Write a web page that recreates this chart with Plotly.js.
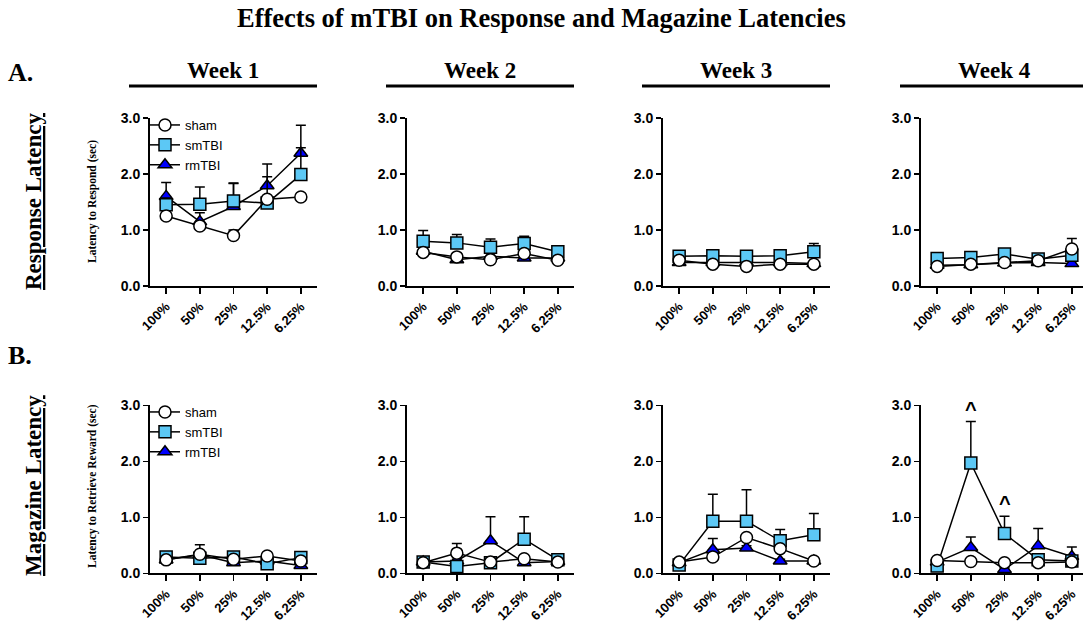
<!DOCTYPE html>
<html>
<head>
<meta charset="utf-8">
<script src="https://cdn.plot.ly/plotly-3.0.1.min.js"></script>
<style>html,body{margin:0;padding:0;background:#fff;}#chart{width:1083px;height:623px;}</style>
</head>
<body>
<div id="chart"></div>
<script>
// ---------- DATA ----------
const doseLabels = ['100%', '50%', '25%', '12.5%', '6.25%'];
const weeks = ['Week 1', 'Week 2', 'Week 3', 'Week 4'];
const groups = ['sham', 'smTBI', 'rmTBI'];
const chartTitle = 'Effects of mTBI on Response and Magazine Latencies';
const rowLabels = ['Response Latency', 'Magazine Latency'];
const rowLetters = ['A.', 'B.'];
const yTitles = ['Latency to Respond (sec)', 'Latency to Retrieve Reward (sec)'];
const yTicks = [0, 1, 2, 3];
const yTickText = ['0.0', '1.0', '2.0', '3.0'];

// Response latency (sec), one row per week, one value per dose
const respSham = [[1.25, 1.07, 0.90, 1.55, 1.59], [0.60, 0.52, 0.47, 0.58, 0.46], [0.46, 0.39, 0.35, 0.39, 0.39], [0.35, 0.39, 0.42, 0.45, 0.66]];
const respShamErr = [[0.03, 0.03, 0.10, 0.03, 0.03], [0.05, 0.05, 0.04, 0.05, 0.04], [0.04, 0.04, 0.03, 0.03, 0.03], [0.03, 0.03, 0.03, 0.03, 0.19]];
const respSm = [[1.45, 1.46, 1.52, 1.48, 1.99], [0.80, 0.77, 0.69, 0.76, 0.61], [0.53, 0.54, 0.53, 0.54, 0.61], [0.49, 0.51, 0.57, 0.48, 0.55]];
const respSmErr = [[0.12, 0.31, 0.32, 0.47, 0.48], [0.19, 0.15, 0.15, 0.13, 0.06], [0.04, 0.04, 0.06, 0.04, 0.15], [0.04, 0.05, 0.06, 0.04, 0.05]];
const respRm = [[1.60, 1.15, 1.42, 1.79, 2.37], [0.62, 0.47, 0.53, 0.50, 0.50], [0.42, 0.42, 0.42, 0.42, 0.40], [0.37, 0.38, 0.41, 0.42, 0.40]];
const respRmErr = [[0.25, 0.16, 0.41, 0.39, 0.50], [0.05, 0.05, 0.05, 0.05, 0.05], [0.04, 0.04, 0.04, 0.04, 0.04], [0.04, 0.04, 0.04, 0.04, 0.04]];

// Magazine latency (sec)
const magSham = [[0.24, 0.34, 0.25, 0.31, 0.22], [0.19, 0.36, 0.20, 0.26, 0.20], [0.20, 0.29, 0.64, 0.44, 0.22], [0.23, 0.21, 0.19, 0.19, 0.20]];
const magShamErr = [[0.02, 0.17, 0.03, 0.02, 0.02], [0.02, 0.17, 0.02, 0.03, 0.02], [0.02, 0.03, 0.04, 0.04, 0.02], [0.02, 0.02, 0.02, 0.02, 0.02]];
const magSm = [[0.29, 0.27, 0.29, 0.17, 0.28], [0.20, 0.12, 0.19, 0.61, 0.24], [0.15, 0.93, 0.93, 0.58, 0.69], [0.13, 1.97, 0.71, 0.24, 0.22]];
const magSmErr = [[0.02, 0.03, 0.02, 0.02, 0.02], [0.02, 0.03, 0.02, 0.40, 0.04], [0.02, 0.48, 0.56, 0.20, 0.38], [0.02, 0.74, 0.31, 0.03, 0.03]];
const magRm = [[0.24, 0.33, 0.19, 0.22, 0.14], [0.20, 0.22, 0.58, 0.19, 0.21], [0.19, 0.42, 0.45, 0.22, 0.22], [0.20, 0.46, 0.07, 0.49, 0.30]];
const magRmErr = [[0.02, 0.03, 0.02, 0.02, 0.02], [0.02, 0.03, 0.43, 0.03, 0.03], [0.02, 0.20, 0.04, 0.03, 0.03], [0.02, 0.19, 0.03, 0.31, 0.17]];

// significance markers: [row, week, dose index] on smTBI
const sigMarks = [[1, 3, 1], [1, 3, 2]];

// ---------- STYLE ----------
const W = 1083, H = 623;
const serif = 'Liberation Serif, Times New Roman, serif';
const sans = 'Liberation Sans, Arial, sans-serif';
const groupStyle = {
  sham: {symbol: 'circle', fill: '#ffffff', rank: 1},
  smTBI: {symbol: 'square', fill: '#5cc8f5', rank: 2},
  rmTBI: {symbol: 'triangle-up', fill: '#0000ff', rank: 3}
};
const dataByRow = [
  {sham: [respSham, respShamErr], smTBI: [respSm, respSmErr], rmTBI: [respRm, respRmErr]},
  {sham: [magSham, magShamErr], smTBI: [magSm, magSmErr], rmTBI: [magRm, magRmErr]}
];
const axisLeftPx = [150, 407, 663, 921];
const axisLenPx = 167;
const pxPerCat = axisLenPx / 4.96;
const rowYpx = [[118, 286], [405.3, 573.3]]; // top (3.0) and bottom (0.0)

const px = v => v / W;
const py = v => 1 - v / H;

const traces = [];
const layout = {
  width: W, height: H,
  margin: {l: 0, r: 0, t: 0, b: 0},
  paper_bgcolor: '#ffffff', plot_bgcolor: 'rgba(0,0,0,0)',
  showlegend: true,
  annotations: [], shapes: []
};

const drawOrder = ['rmTBI', 'smTBI', 'sham'];
for (let r = 0; r < 2; r++) {
  for (let w = 0; w < 4; w++) {
    const n = r * 4 + w + 1;
    const xa = n === 1 ? 'x' : 'x' + n, ya = n === 1 ? 'y' : 'y' + n;
    const left = axisLeftPx[w];
    const right = Math.min(left + axisLenPx, W);
    const rangeHi = -0.48 + (right - left) / pxPerCat;
    layout['xaxis' + (n === 1 ? '' : n)] = {
      domain: [px(left), px(right)], anchor: ya, type: 'category',
      range: [-0.48, rangeHi], showline: true, linecolor: '#000', linewidth: 2,
      ticks: 'outside', ticklen: 6, tickwidth: 1.5, tickcolor: '#000',
      tickangle: -45, tickfont: {family: sans, size: 13, weight: 'bold', color: '#000'},
      showgrid: false, zeroline: false, fixedrange: true, automargin: false
    };
    layout['yaxis' + (n === 1 ? '' : n)] = {
      domain: [py(rowYpx[r][1]), py(rowYpx[r][0])], anchor: xa,
      range: [0, 3], tickvals: yTicks, ticktext: yTickText,
      showline: true, linecolor: '#000', linewidth: 2,
      ticks: 'outside', ticklen: 5, tickwidth: 1.5, tickcolor: '#000',
      tickfont: {family: sans, size: 14, weight: 'bold', color: '#000'},
      showgrid: false, zeroline: false, fixedrange: true, automargin: false
    };
    drawOrder.forEach(g => {
      const [means, errs] = dataByRow[r][g];
      const st = groupStyle[g];
      const isLegendPanel = (w === 0);
      traces.push({
        type: 'scatter', mode: 'lines+markers', name: g,
        x: doseLabels, y: means[w], xaxis: xa, yaxis: ya,
        cliponaxis: false,
        line: {color: '#000', width: 1.5},
        marker: {symbol: st.symbol, size: 12, color: st.fill, line: {color: '#000', width: 1.5}},
        error_y: {type: 'data', symmetric: false, array: errs[w], arrayminus: errs[w].map(() => 0),
                  color: '#000', thickness: 1.5, width: 5},
        showlegend: isLegendPanel,
        legend: r === 0 ? 'legend' : 'legend2',
        legendrank: st.rank,
        hoverinfo: 'skip'
      });
    });
    // week header + underline
    const ulL = left - 21, ulR = left + axisLenPx;
    if (r === 0) {
      layout.annotations.push({
        xref: 'paper', yref: 'paper', x: px((ulL + ulR) / 2), y: py(70), text: weeks[w],
        showarrow: false, xanchor: 'center', yanchor: 'middle',
        font: {family: serif, size: 23, weight: 'bold', color: '#000'}
      });
      layout.shapes.push({type: 'line', xref: 'paper', yref: 'paper',
        x0: px(ulL), x1: px(Math.min(ulR, W)), y0: py(86), y1: py(86),
        line: {color: '#000', width: 3}});
    }
  }
}

// legends
const legendBase = {
  xanchor: 'left', yanchor: 'top', bgcolor: 'rgba(0,0,0,0)', borderwidth: 0,
  font: {family: sans, size: 13, color: '#000'}, itemwidth: 30, tracegroupgap: 0,
  traceorder: 'normal', itemclick: false, itemdoubleclick: false
};
layout.legend = Object.assign({}, legendBase, {x: px(145), y: py(110)});
layout.legend2 = Object.assign({}, legendBase, {x: px(145), y: py(397)});

// title, row letters, row labels, y titles
layout.annotations.push({xref: 'paper', yref: 'paper', x: 0.5, y: py(18), text: chartTitle,
  showarrow: false, xanchor: 'center', yanchor: 'middle',
  font: {family: serif, size: 26.5, weight: 'bold', color: '#000'}});
const rowCenterPx = [202, 486];
const letterPx = [72, 355];
for (let r = 0; r < 2; r++) {
  layout.annotations.push({xref: 'paper', yref: 'paper', x: px(6), y: py(letterPx[r]), text: rowLetters[r],
    showarrow: false, xanchor: 'left', yanchor: 'middle',
    font: {family: serif, size: 26, weight: 'bold', color: '#000'}});
  layout.annotations.push({xref: 'paper', yref: 'paper', x: px(33), y: py(rowCenterPx[r]), text: rowLabels[r],
    showarrow: false, xanchor: 'center', yanchor: 'middle', textangle: -90,
    font: {family: serif, size: 23, weight: 'bold', color: '#000', lineposition: 'under'}});
  layout.annotations.push({xref: 'paper', yref: 'paper', x: px(92), y: py(rowCenterPx[r]), text: yTitles[r],
    showarrow: false, xanchor: 'center', yanchor: 'middle', textangle: -90,
    font: {family: serif, size: 11.5, weight: 'bold', color: '#000'}});
}
// significance carets (placed above smTBI error bar)
sigMarks.forEach(([r, w, d]) => {
  const n = r * 4 + w + 1;
  const [means, errs] = dataByRow[r].smTBI;
  layout.annotations.push({xref: 'x' + n, yref: 'y' + n, x: doseLabels[d], y: means[w][d] + errs[w][d],
    text: '^', showarrow: false, xanchor: 'center', yanchor: 'bottom', yshift: 0,
    font: {family: sans, size: 20, weight: 'bold', color: '#000'}});
});

Plotly.newPlot('chart', traces, layout, {displayModeBar: false, staticPlot: true});
</script>
</body>
</html>
